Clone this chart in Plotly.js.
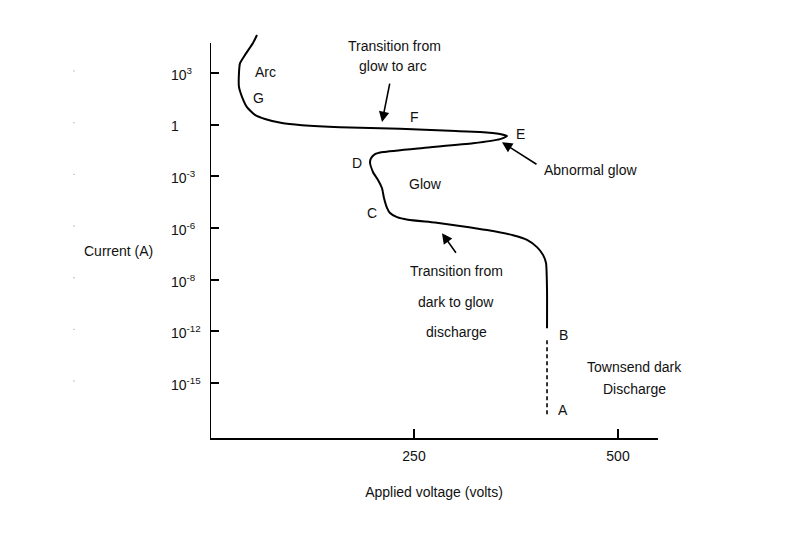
<!DOCTYPE html>
<html>
<head>
<meta charset="utf-8">
<script src="https://cdn.plot.ly/plotly-3.0.1.min.js"></script>
<style>html,body{margin:0;padding:0;background:#fff;}#chart{width:800px;height:540px;}</style>
</head>
<body>
<div id="chart"></div>
<script>
// y axis is a display scale: each tick is one step, labels give the current
var yTickPos = [6, 5, 4, 3, 2, 1, 0];
var yTickText = ['10<sup>3</sup>', '1', '10<sup>-3</sup>', '10<sup>-6</sup>', '10<sup>-8</sup>', '10<sup>-12</sup>', '10<sup>-15</sup>'];
var xTickVals = [250, 500];
var xTickText = ['250', '500'];

// Main discharge curve (applied voltage, current scale position) from arc down to B
var curveVolts = [57.6, 52.7, 42.9, 36.8, 35.5, 35.5, 39.2, 45.3, 55.1, 67.4, 88.2, 112.7, 159.3, 232.8, 294.1, 330.9, 355.4, 364.0,
  355.4, 322.3, 261.0, 212.0, 202.2, 197.3, 196.1, 199.8, 205.9, 210.8, 213.2, 216.9, 220.6, 229.2, 242.6, 275.7, 306.4, 339.5,
  371.3, 388.5, 400.7, 408.1, 411.8, 413.0, 413.0];
var curveCurrent = [6.735, 6.58, 6.35, 6.19, 6.0, 5.73, 5.54, 5.34, 5.19, 5.11, 5.03, 4.99, 4.95, 4.92, 4.88, 4.86, 4.82, 4.78,
  4.72, 4.64, 4.55, 4.47, 4.43, 4.35, 4.26, 4.08, 3.93, 3.77, 3.58, 3.39, 3.29, 3.21, 3.16, 3.106, 3.04, 2.96,
  2.86, 2.77, 2.63, 2.48, 2.32, 1.80, 1.06];

// Townsend dark discharge segment (A to B), dashed
var townsendVolts = [413.0, 413.0];
var townsendCurrent = [0.83, -0.66];

var font = {family: 'Liberation Sans, Arial, sans-serif', size: 14, color: '#111'};

var traces = [
  {x: curveVolts, y: curveCurrent, mode: 'lines', type: 'scatter', line: {color: '#000', width: 2, shape: 'spline', smoothing: 0.5}, hoverinfo: 'skip', showlegend: false},
  {x: townsendVolts, y: townsendCurrent, mode: 'lines', type: 'scatter', line: {color: '#000', width: 1.6, dash: '4px,3px'}, hoverinfo: 'skip', showlegend: false}
];

var annotations = [];
function txt(t, x, y, extra) {
  var a = {text: t, x: x, y: y, xref: 'x', yref: 'y', showarrow: false, font: font, xanchor: 'center', yanchor: 'middle'};
  if (extra) for (var k in extra) a[k] = extra[k];
  annotations.push(a);
}
// y tick labels (left aligned, as in the reference)
for (var i = 0; i < yTickPos.length; i++) {
  annotations.push({text: yTickText[i], x: -0.0915, xref: 'paper', y: yTickPos[i], yref: 'y', xanchor: 'left', yanchor: 'middle', showarrow: false, font: font, yshift: -1});
}
txt('Current (A)', -0.205, 2.55, {xref: 'paper'});
txt('Arc', 67.4, 6.02);
txt('G', 60.0, 5.52);
txt('Transition from', 226.7, 6.52);
txt('glow to arc', 224.3, 6.14);
txt('F', 251.2, 5.15);
txt('E', 379.9, 4.82);
txt('Abnormal glow', 465.7, 4.12);
txt('D', 180.1, 4.26);
txt('Glow', 263.5, 3.85);
txt('C', 198.5, 3.29);
txt('Transition from', 301.5, 2.17);
txt('dark to glow', 301.5, 1.57);
txt('discharge', 301.5, 0.99);
txt('B', 432.6, 0.93);
txt('Townsend dark', 520.8, 0.31);
txt('Discharge', 520.8, -0.12);
txt('A', 432.6, -0.52);

function arrow(x, y, ax, ay) {
  annotations.push({text: '', x: x, y: y, xref: 'x', yref: 'y', ax: ax, ay: ay, showarrow: true, arrowhead: 2, arrowsize: 1.3, arrowwidth: 1.6, arrowcolor: '#000', standoff: 0});
}
arrow(210.8, 5.05, 8, -40);
arrow(357.8, 4.66, 36, 23);
arrow(284.3, 2.90, 15, 21);

var shapes = [
  {type: 'line', xref: 'x', yref: 'y', x0: 0, x1: 0, y0: -1.064, y1: 6.58, line: {color: '#000', width: 2}}
];
for (var j = 0; j < yTickPos.length; j++) {
  shapes.push({type: 'circle', xref: 'paper', yref: 'y', xsizemode: 'pixel', ysizemode: 'pixel', xanchor: -0.3036, yanchor: yTickPos[j], x0: -0.7, x1: 0.7, y0: 1.3, y1: 2.7, fillcolor: '#aaa', line: {width: 0}});
}

var layout = {
  width: 800, height: 540,
  margin: {l: 210, r: 142, t: 33, b: 102},
  paper_bgcolor: '#fff', plot_bgcolor: '#fff',
  font: font,
  showlegend: false,
  xaxis: {
    range: [0, 549], showgrid: false, zeroline: false,
    showline: true, linecolor: '#000', linewidth: 2,
    ticks: 'inside', ticklen: 9, tickwidth: 2, tickcolor: '#000',
    tickvals: xTickVals, ticktext: xTickText, tickfont: font, ticklabelstandoff: 4,
    title: {text: 'Applied voltage (volts)', font: font, standoff: 24},
    automargin: false
  },
  yaxis: {
    range: [-1.064, 6.774], showgrid: false, zeroline: false, showline: false,
    ticks: 'inside', ticklen: 9, tickwidth: 2, tickcolor: '#000',
    tickvals: yTickPos, ticktext: yTickText, showticklabels: false,
    automargin: false
  },
  annotations: annotations,
  shapes: shapes
};

Plotly.newPlot('chart', traces, layout, {staticPlot: true, displayModeBar: false});
</script>
</body>
</html>
